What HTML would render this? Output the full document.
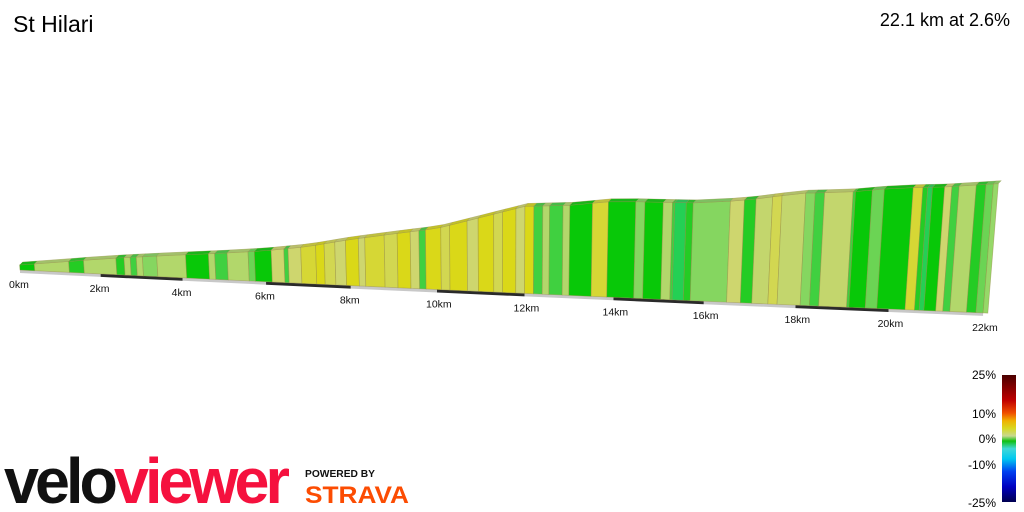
<!DOCTYPE html>
<html><head><meta charset="utf-8"><style>
html,body{margin:0;padding:0;background:#fff;width:1024px;height:512px;overflow:hidden;font-family:"Liberation Sans",sans-serif}
</style></head><body>
<svg id="chart" width="1024" height="512" viewBox="0 0 1024 512" xmlns="http://www.w3.org/2000/svg">
<defs>
<linearGradient id="lg" x1="0" y1="0" x2="0" y2="1">
<stop offset="0" stop-color="#4a0000"/><stop offset="0.2" stop-color="#c00000"/><stop offset="0.3" stop-color="#f05000"/>
<stop offset="0.36" stop-color="#f0b000"/><stop offset="0.42" stop-color="#d8d820"/><stop offset="0.48" stop-color="#c8d890"/>
<stop offset="0.52" stop-color="#10c010"/><stop offset="0.58" stop-color="#40d8d8"/><stop offset="0.66" stop-color="#00c8f0"/>
<stop offset="0.76" stop-color="#0040f0"/><stop offset="0.88" stop-color="#0000c0"/><stop offset="1" stop-color="#000050"/>
</linearGradient>
</defs>
<text x="13" y="32" font-size="23" fill="#000">St Hilari</text>
<text x="1010" y="26" font-size="18" fill="#000" text-anchor="end">22.1 km at 2.6%</text>
<g id="profile"></g>
<g id="ticks"></g>
<g>
<rect x="1002" y="375" width="14" height="127" fill="url(#lg)"/>
<g font-size="12" fill="#000" text-anchor="end">
<text x="996" y="379">25%</text>
<text x="996" y="418">10%</text>
<text x="996" y="443">0%</text>
<text x="996" y="469">-10%</text>
<text x="996" y="507">-25%</text>
</g></g>
<g>
<text x="4" y="503" font-size="64" font-weight="bold" textLength="282" lengthAdjust="spacingAndGlyphs" style="letter-spacing:-4px"><tspan fill="#111">velo</tspan><tspan fill="#f5113e">viewer</tspan></text>
</g>
<text x="305" y="477" font-size="10.5" font-weight="bold" fill="#111" textLength="70" lengthAdjust="spacingAndGlyphs">POWERED BY</text>
<text x="305" y="503" font-size="24" font-weight="bold" fill="#fc4c02" textLength="104" lengthAdjust="spacingAndGlyphs">STRAVA</text>
</svg>
<script>
const elevKm=[0,1,2,3,4,5,6,7,8,9,10,11,12,13,14,15,16,17,18,19,20,21,22,22.1];
const elevM=[200,222,246,265,283,300,320,348,390,425,459,519,580,594,622,626,631,658,695,709,737,751,774,776];
const segEnd=[0.37,1.23,1.6,2.4,2.6,2.75,2.9,3.05,3.4,4.1,4.65,4.8,5.1,5.6,5.75,6.15,6.45,6.55,6.85,7.2,7.4,7.65,7.9,8.2,8.35,8.8,9.1,9.4,9.6,9.75,10.1,10.3,10.7,10.95,11.3,11.5,11.8,12.0,12.2,12.4,12.55,12.85,13.0,13.5,13.85,14.45,14.65,15.05,15.25,15.3,15.55,15.7,16.5,16.8,17.05,17.4,17.6,18.1,18.3,18.5,19.1,19.15,19.5,19.75,20.35,20.55,20.65,20.75,21.0,21.15,21.3,21.65,21.85,22.0,22.1];
const segGrade=[0,2.5,0.5,2.5,0.5,2.5,1,2.5,1.8,2.5,0,2.5,1,2.5,1.5,0,3,1,3,4,4.5,3.5,3,4.5,3,4,3.5,4.5,3,1,4.5,3.5,4.5,3,4.5,3.5,4.5,3,4.5,1,2.5,1,2.5,0,4,0,1.8,0,2.5,1,-1.5,0.5,1.8,3,0.5,2.8,3.5,2.8,1.8,1,2.8,1,0,1.5,0,4,0.5,-1.5,0,3,1,2.5,0.5,1.5,2];
const tickKm=[0,2,4,6,8,10,12,14,16,18,20,22];
const tickLabels=["0km","2km","4km","6km","8km","10km","12km","14km","16km","18km","20km","22km"];

const NS="http://www.w3.org/2000/svg";
const xOf=k=>20+39.97*k+0.173*k*k;
const baseY=k=>270+1.95*k;
const hPx=e=>5+(e-200)*0.216;
function elevAt(k){for(let i=1;i<elevKm.length;i++){if(k<=elevKm[i]){const t=(k-elevKm[i-1])/(elevKm[i]-elevKm[i-1]);return elevM[i-1]+t*(elevM[i]-elevM[i-1]);}}return elevM[elevM.length-1];}
function topPt(k){const bx=xOf(k),h=hPx(elevAt(k));return [bx+h*(bx-500)/6000,baseY(k)-h];}
const stops=[[-3,[64,216,160]],[0,[8,200,8]],[1,[64,208,64]],[2,[150,216,104]],[3,[206,214,110]],[4.5,[218,216,24]],[10,[255,128,0]],[25,[128,0,0]]];
function col(g){if(g<=stops[0][0])return stops[0][1];for(let i=1;i<stops.length;i++){if(g<=stops[i][0]){const t=(g-stops[i-1][0])/(stops[i][0]-stops[i-1][0]);return stops[i-1][1].map((v,j)=>Math.round(v+t*(stops[i][1][j]-v)));}}return stops[stops.length-1][1];}
const prof=document.getElementById('profile');
function poly(pts,fill,stroke,sw){const p=document.createElementNS(NS,'polygon');p.setAttribute('points',pts.map(q=>q.join(',')).join(' '));p.setAttribute('fill',fill);if(stroke){p.setAttribute('stroke',stroke);p.setAttribute('stroke-width',sw);}return p;}
for(let i=0;i<11;i++){const k0=tickKm[i],k1=Math.min(tickKm[i+1],22.1);
const p=poly([[xOf(k0),baseY(k0)],[xOf(k1),baseY(k1)],[xOf(k1),baseY(k1)+3],[xOf(k0),baseY(k0)+3]],(i%2)?'#2a2a2a':'#c8c8c8');


prof.appendChild(p);}
let k0=0;
segEnd.forEach((k1,i)=>{const c=col(segGrade[i]);const cs='rgb('+c.join(',')+')';
const t0=topPt(k0),t1=topPt(k1);
const f=poly([[xOf(k0),baseY(k0)],t0,t1,[xOf(k1),baseY(k1)]],cs,'rgba(150,140,70,0.55)',0.7);


prof.appendChild(f);
const d=c.map(v=>Math.round(v*0.8+20));
const tp=poly([t0,t1,[t1[0]+3,t1[1]-3],[t0[0]+3,t0[1]-3]],'rgb('+d.join(',')+')','rgba(150,140,70,0.5)',0.5);


prof.appendChild(tp);
k0=k1;});
const ticks=document.getElementById('ticks');
tickKm.forEach((k,i)=>{const t=document.createElementNS(NS,'text');


t.setAttribute('x',xOf(k)-11);t.setAttribute('y',baseY(k)+18);t.setAttribute('font-size','10.5');t.setAttribute('fill','#111');
t.textContent=tickLabels[i];ticks.appendChild(t);});
</script>
</body></html>
